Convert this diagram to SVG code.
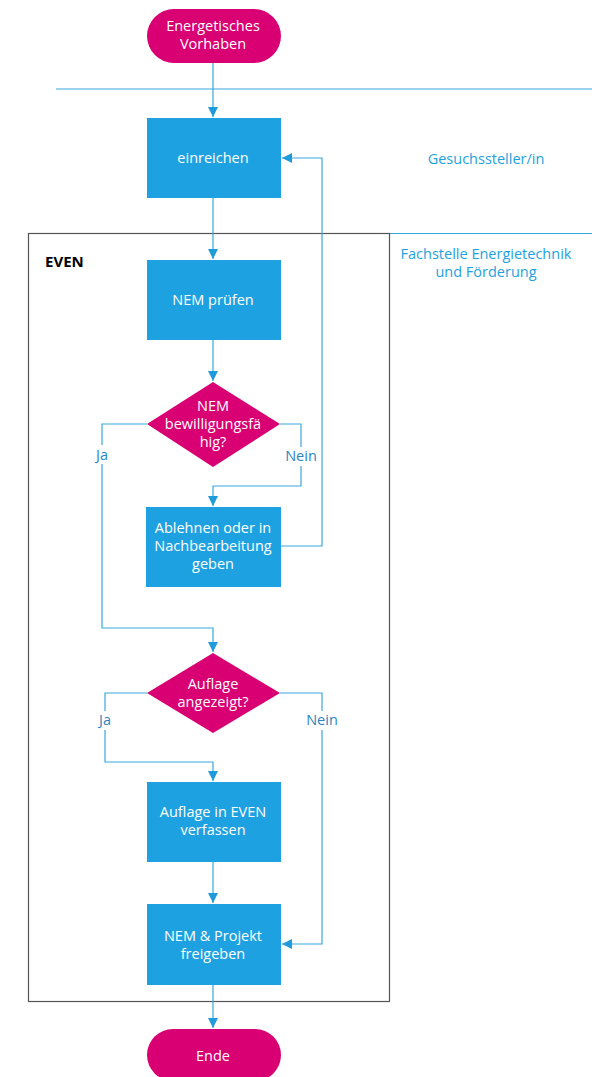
<svg xmlns="http://www.w3.org/2000/svg" width="595" height="1077" viewBox="0 0 595 1077">
<defs>
<marker id="arr" viewBox="0 0 10 10" refX="10" refY="5" markerWidth="10" markerHeight="10" markerUnits="userSpaceOnUse" orient="auto">
<path d="M0,0 L10,5 L0,10 z" fill="#1f9bd9"/>
</marker>
<style>
.box{fill:#1ea1e0}
.term{fill:#d80073}
.dia{fill:#d80073}
.t{font-family:"Open Sans","Noto Sans",sans-serif;font-size:14.5px;fill:#ffffff;text-anchor:middle}
.lane{font-family:"Open Sans","Noto Sans",sans-serif;font-size:14.5px;fill:#1ea1e0;text-anchor:middle}
.lbl{font-family:"Open Sans","Noto Sans",sans-serif;font-size:14.5px;fill:#2b86bf;text-anchor:middle}
.c{fill:none;stroke:#3aa7df;stroke-width:1.2}
.sep{fill:none;stroke:#3aa7df;stroke-width:1}
</style>
</defs>
<rect width="595" height="1077" fill="#ffffff"/>
<g id="lanes">
<line class="sep" x1="56" y1="89" x2="592" y2="89"/>
<line class="sep" x1="390" y1="233.5" x2="592" y2="233.5"/>
<text class="lane" x="486" y="164">Gesuchssteller/in</text>
<text class="lane" x="486" y="259">Fachstelle Energietechnik</text>
<text class="lane" x="486" y="277">und Förderung</text>
</g>
<g id="even">
<rect x="28.5" y="233.5" width="361" height="768" fill="none" stroke="#555555" stroke-width="1.2"/>
<text x="45" y="267" font-family="'Open Sans','Noto Sans',sans-serif" font-size="15" font-weight="bold" fill="#000000">EVEN</text>
</g>
<g id="connectors">
<path class="c" d="M213,63 V117" marker-end="url(#arr)"/>
<path class="c" d="M213,198 V259" marker-end="url(#arr)"/>
<path class="c" d="M213,340 V381" marker-end="url(#arr)"/>
<path class="c" d="M280,424 H301 V486 H213 V506" marker-end="url(#arr)"/>
<path class="c" d="M281,546 H322 V158 H282" marker-end="url(#arr)"/>
<path class="c" d="M147,424 H102 V628 H213 V652" marker-end="url(#arr)"/>
<path class="c" d="M147,693 H105 V762 H213 V781" marker-end="url(#arr)"/>
<path class="c" d="M280,693 H322 V944 H282" marker-end="url(#arr)"/>
<path class="c" d="M213,862 V903" marker-end="url(#arr)"/>
<path class="c" d="M213,985 V1028" marker-end="url(#arr)"/>
<rect x="92" y="445" width="20" height="19" fill="#ffffff"/>
<text class="lbl" x="102" y="460">Ja</text>
<rect x="285" y="447" width="32" height="19" fill="#ffffff"/>
<text class="lbl" x="301" y="461">Nein</text>
<rect x="95" y="711" width="20" height="19" fill="#ffffff"/>
<text class="lbl" x="105" y="725">Ja</text>
<rect x="306" y="711" width="32" height="19" fill="#ffffff"/>
<text class="lbl" x="322" y="725">Nein</text>
</g>
<g id="start">
<rect class="term" x="147" y="9" width="134" height="54" rx="27"/>
<text class="t" x="213" y="31">Energetisches</text>
<text class="t" x="213" y="49">Vorhaben</text>
</g>
<g id="einreichen">
<rect class="box" x="147" y="118" width="134" height="80"/>
<text class="t" x="213" y="163">einreichen</text>
</g>
<g id="pruefen">
<rect class="box" x="147" y="260" width="134" height="80"/>
<text class="t" x="213" y="305">NEM prüfen</text>
</g>
<g id="decision1">
<path class="dia" d="M213,382 L280,424 L213,467 L147,424 z"/>
<text class="t" x="213" y="411">NEM</text>
<text class="t" x="213" y="429">bewilligungsfä</text>
<text class="t" x="213" y="447">hig?</text>
</g>
<g id="ablehnen">
<rect class="box" x="146" y="507" width="135" height="80"/>
<text class="t" x="213" y="533">Ablehnen oder in</text>
<text class="t" x="213" y="551">Nachbearbeitung</text>
<text class="t" x="213" y="569">geben</text>
</g>
<g id="decision2">
<path class="dia" d="M213,653 L280,693 L213,733 L147,693 z"/>
<text class="t" x="213" y="689">Auflage</text>
<text class="t" x="213" y="707">angezeigt?</text>
</g>
<g id="auflage">
<rect class="box" x="147" y="782" width="134" height="80"/>
<text class="t" x="213" y="817">Auflage in EVEN</text>
<text class="t" x="213" y="835">verfassen</text>
</g>
<g id="freigeben">
<rect class="box" x="147" y="904" width="134" height="81"/>
<text class="t" x="213" y="941">NEM &amp; Projekt</text>
<text class="t" x="213" y="959">freigeben</text>
</g>
<g id="ende">
<rect class="term" x="147" y="1029" width="134" height="52" rx="26"/>
<text class="t" x="213" y="1061">Ende</text>
</g>
</svg>
